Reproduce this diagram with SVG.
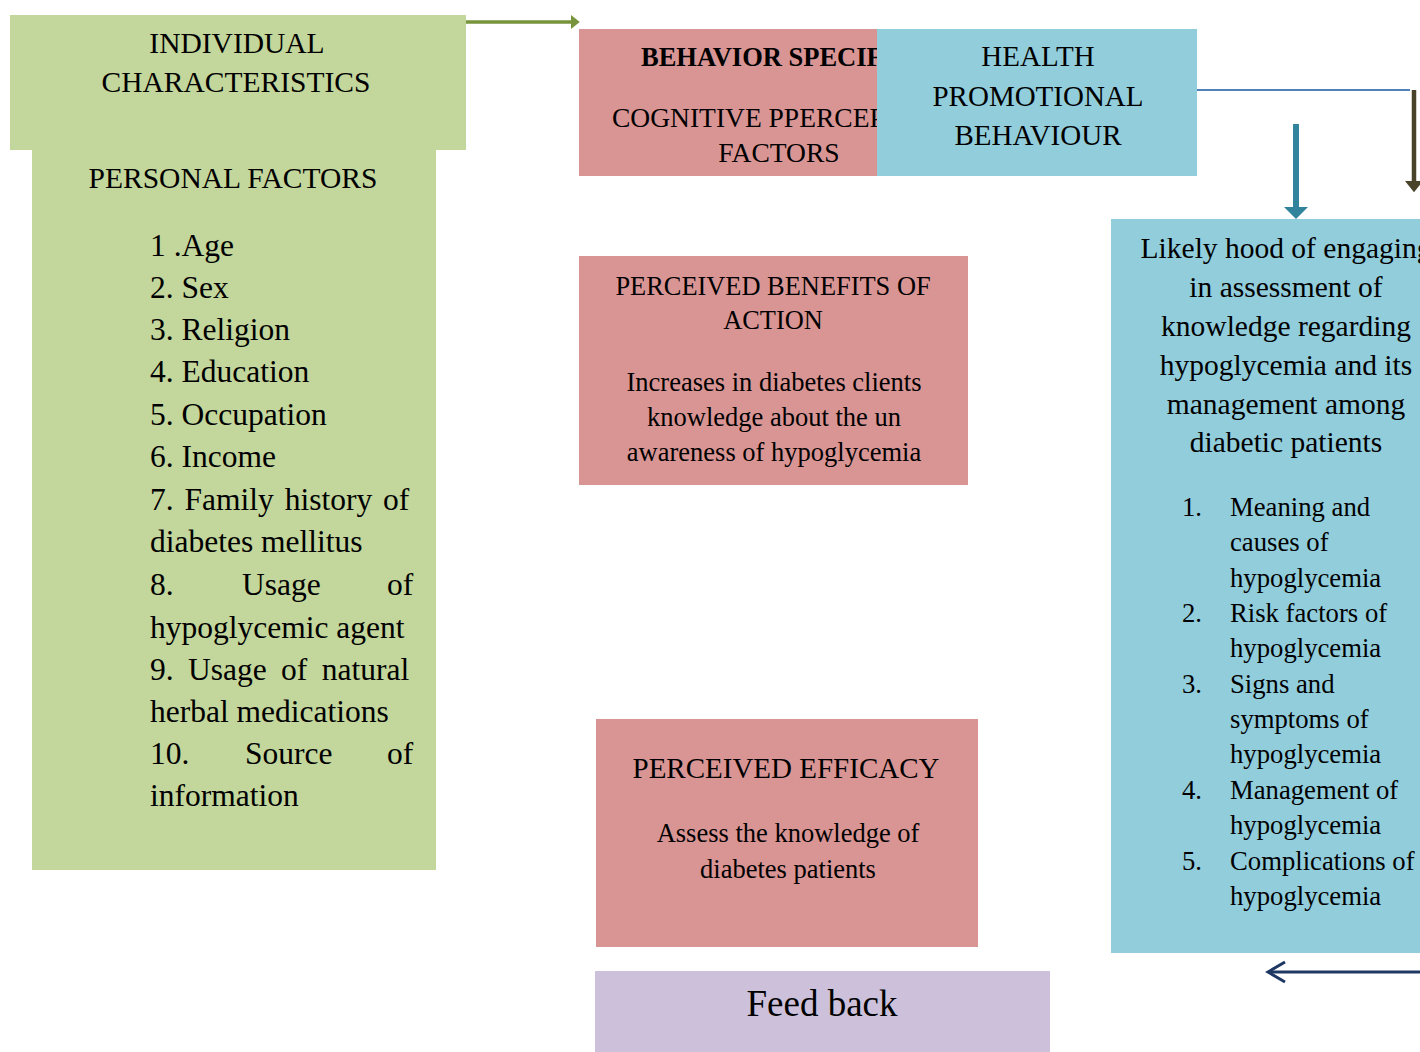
<svg xmlns="http://www.w3.org/2000/svg" width="1420" height="1052" viewBox="0 0 1420 1052">
<style>
text{font-family:"Liberation Serif","Times New Roman",serif;fill:#000}
.g{fill:#c3d69b}
.p{fill:#d99594}
.b{fill:#92cddc}
.v{fill:#ccc0da}
.c{text-anchor:middle}
</style>
<defs>
<marker id="ah-green" markerWidth="4" markerHeight="4" refX="0" refY="2" orient="auto" markerUnits="strokeWidth"><path d="M0,0 L2.5,2 L0,4 z" fill="#77933c"/></marker>
<marker id="ah-olive" markerWidth="4" markerHeight="4" refX="0" refY="2" orient="auto" markerUnits="strokeWidth"><path d="M0,0 L2.5,2 L0,4 z" fill="#494429"/></marker>
<marker id="ah-teal" markerWidth="4" markerHeight="4" refX="0" refY="2" orient="auto" markerUnits="strokeWidth"><path d="M0,0 L2,2 L0,4 z" fill="#31849b"/></marker>
</defs>
<rect width="1420" height="1052" fill="#fff"/>

<g id="individual">
<rect class="g" x="10" y="15" width="456" height="135"/>
<rect class="g" x="32" y="150" width="404" height="720"/>
<text class="c" x="237" y="53" font-size="29.5">INDIVIDUAL</text>
<text class="c" x="236" y="92" font-size="29.5">CHARACTERISTICS</text>
<text class="c" x="233" y="188" font-size="29.5">PERSONAL FACTORS</text>
<g font-size="31.5">
<text x="150" y="256">1 .Age</text>
<text x="150" y="298">2. Sex</text>
<text x="150" y="340">3. Religion</text>
<text x="150" y="382">4. Education</text>
<text x="150" y="425">5. Occupation</text>
<text x="150" y="467">6. Income</text>
<text x="150" y="510" word-spacing="3">7. Family history of</text>
<text x="150" y="552">diabetes mellitus</text>
<text y="595"><tspan x="150">8.</tspan><tspan x="242">Usage</tspan><tspan x="387">of</tspan></text>
<text x="150" y="638">hypoglycemic agent</text>
<text x="150" y="680" word-spacing="6.5">9. Usage of natural</text>
<text x="150" y="722">herbal medications</text>
<text y="764"><tspan x="150">10.</tspan><tspan x="245">Source</tspan><tspan x="387">of</tspan></text>
<text x="150" y="806">information</text>
</g>
</g>

<g id="behavior-specific">
<rect class="p" x="579" y="29" width="400" height="147"/>
<text x="641" y="66" font-size="26.5" font-weight="bold">BEHAVIOR SPECIFIC</text>
<text x="612" y="127" font-size="27.5">COGNITIVE PPERCEPTION</text>
<text class="c" x="779" y="162" font-size="27.5">FACTORS</text>
</g>

<g id="health-promotional">
<rect class="b" x="877" y="29" width="320" height="147"/>
<text class="c" x="1038" y="66" font-size="29">HEALTH</text>
<text class="c" x="1038" y="106" font-size="29">PROMOTIONAL</text>
<text class="c" x="1038" y="145" font-size="29">BEHAVIOUR</text>
</g>

<g id="benefits">
<rect class="p" x="579" y="256" width="389" height="229"/>
<text class="c" x="773" y="295" font-size="26.4">PERCEIVED BENEFITS OF</text>
<text class="c" x="773" y="329" font-size="26.4">ACTION</text>
<text class="c" x="774" y="391" font-size="26.5">Increases in diabetes clients</text>
<text class="c" x="774" y="426" font-size="26.5">knowledge about the un</text>
<text class="c" x="774" y="461" font-size="26.5">awareness of hypoglycemia</text>
</g>

<g id="efficacy">
<rect class="p" x="596" y="719" width="382" height="228"/>
<text class="c" x="786" y="778" font-size="29">PERCEIVED EFFICACY</text>
<text class="c" x="788" y="842" font-size="26.5">Assess the knowledge of</text>
<text class="c" x="788" y="878" font-size="26.5">diabetes patients</text>
</g>

<g id="feedback">
<rect class="v" x="595" y="971" width="455" height="81"/>
<text class="c" x="822" y="1016" font-size="37">Feed back</text>
</g>

<g id="likelihood">
<rect class="b" x="1111" y="219" width="320" height="734"/>
<g font-size="29.5">
<text class="c" x="1286" y="258">Likely hood of engaging</text>
<text class="c" x="1286" y="297">in assessment of</text>
<text class="c" x="1286" y="336">knowledge regarding</text>
<text class="c" x="1286" y="375">hypoglycemia and its</text>
<text class="c" x="1286" y="414">management among</text>
<text class="c" x="1286" y="452">diabetic patients</text>
</g>
<g font-size="26.7">
<text x="1182" y="516">1.</text><text x="1230" y="516">Meaning and</text>
<text x="1230" y="551">causes of</text>
<text x="1230" y="587">hypoglycemia</text>
<text x="1182" y="622">2.</text><text x="1230" y="622">Risk factors of</text>
<text x="1230" y="657">hypoglycemia</text>
<text x="1182" y="693">3.</text><text x="1230" y="693">Signs and</text>
<text x="1230" y="728">symptoms of</text>
<text x="1230" y="763">hypoglycemia</text>
<text x="1182" y="799">4.</text><text x="1230" y="799">Management of</text>
<text x="1230" y="834">hypoglycemia</text>
<text x="1182" y="870">5.</text><text x="1230" y="870">Complications of</text>
<text x="1230" y="905">hypoglycemia</text>
</g>
</g>

<g id="connectors" fill="none">
<line x1="466" y1="22" x2="571" y2="22" stroke="#77933c" stroke-width="3.5" marker-end="url(#ah-green)"/>
<line x1="1197" y1="90" x2="1410" y2="90" stroke="#4f81bd" stroke-width="2"/>
<line x1="1414" y1="90" x2="1414" y2="181" stroke="#494429" stroke-width="4.5" marker-end="url(#ah-olive)"/>
<line x1="1296" y1="124" x2="1296" y2="207" stroke="#31849b" stroke-width="6" marker-end="url(#ah-teal)"/>
<line x1="1420" y1="972" x2="1269" y2="972" stroke="#1f3864" stroke-width="3"/>
<polyline points="1285,962 1268,972 1285,982" stroke="#1f3864" stroke-width="3"/>
</g>
</svg>
